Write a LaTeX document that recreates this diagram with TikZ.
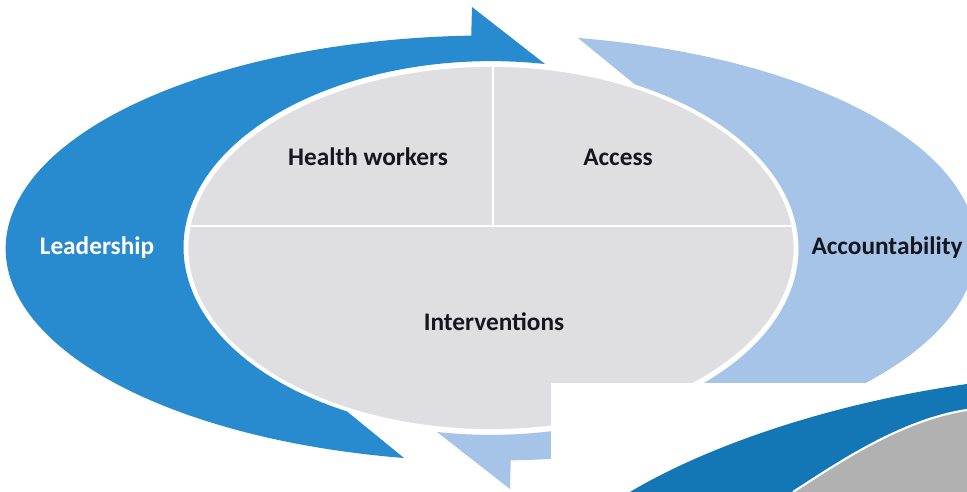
\documentclass[tikz,border=0pt]{standalone}
\usepackage{fontspec}
\setmainfont{Carlito}
\usepackage{tikz}
\definecolor{leadblue}{RGB}{40,138,207}
\definecolor{acctblue}{RGB}{166,196,232}
\definecolor{coregrey}{RGB}{223,223,225}
\definecolor{bandblue}{RGB}{20,119,181}
\definecolor{bandgrey}{RGB}{177,177,177}
\definecolor{textdark}{RGB}{22,22,30}

\begin{document}
\begin{tikzpicture}[x=0.02cm,y=-0.02cm,
    lbl/.style={font=\fontsize{14.4}{16}\selectfont\bfseries,text=textdark},
    divider/.style={white,line width=1.3pt}]
  \fill[white] (0,0) rectangle (967,492);
  \useasboundingbox (0,0) rectangle (967,492);

  % Leadership arrow (left), Accountability arrow is the same turned round
  \fill[leadblue] (404,458) arc[start angle=100.3,end angle=267.7,x radius=485,y radius=213]
    -- (472,7) -- (545,64) arc[start angle=280,end angle=118,x radius=308,y radius=186] -- cycle;
  \begin{scope}[rotate around={180:(491,248)}]
    \fill[acctblue] (404,458) arc[start angle=100.3,end angle=267.7,x radius=485,y radius=213]
      -- (472,7) -- (545,64) arc[start angle=280,end angle=118,x radius=308,y radius=186] -- cycle;
  \end{scope}

  % core ellipse with its three parts
  \fill[coregrey] (491,248) ellipse[x radius=304,y radius=182.5];
  \begin{scope}
    \clip (491,248) ellipse[x radius=304,y radius=182.5];
    \draw[divider] (150,226) -- (840,226);
    \draw[divider] (493,40) -- (493,226);
  \end{scope}
  \draw[white,line width=1.6pt] (491,248) ellipse[x radius=304,y radius=182.5];

  \node[lbl] (hw) at (368,157) {Health workers};
  \node[lbl] (acc) at (618,157) {Access};
  \node[lbl] (intv) at (494,322) {Interventions};
  \node[lbl,text=white] (lead) at (97,248) {Leadership};
  \node[lbl] (acct) at (887,248) {Accountability};

  % cut-off corner of the next figure
  \fill[white] (551,383) rectangle (967,492);
  \fill[bandblue] (630,492) .. controls (700,450) and (820,405) .. (967,384) -- (967,492) -- cycle;
  \fill[bandgrey] (793,492) .. controls (835,465) and (900,420) .. (967,410) -- (967,492) -- cycle;
  \draw[white,line width=1.2pt] (793,492) .. controls (835,465) and (900,420) .. (967,410);
\end{tikzpicture}
\end{document}
